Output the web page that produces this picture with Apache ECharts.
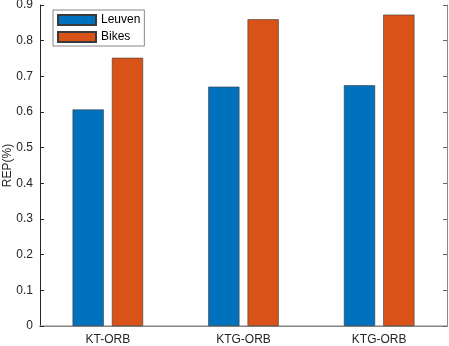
<!DOCTYPE html>
<html>
<head>
<meta charset="utf-8">
<script src="https://cdn.jsdelivr.net/npm/echarts@6/dist/echarts.min.js"></script>
<style>
  html, body { margin: 0; padding: 0; background: #fff; }
  #chart1 { width: 449px; height: 346px; }
</style>
</head>
<body>
<div id="chart1"></div>
<script>
const categorias = ['KT-ORB', 'KTG-ORB', 'KTG-ORB'];
const leuven = [0.607, 0.671, 0.675];
const bikes = [0.752, 0.860, 0.873];
const yTicks = [0, 0.1, 0.2, 0.3, 0.4, 0.5, 0.6, 0.7, 0.8, 0.9];

const fuente = 'Liberation Sans, Arial, sans-serif';
const gris = '#262626';

const chart1 = echarts.init(document.getElementById('chart1'));

const option = {
  animation: false,
  textStyle: { fontFamily: fuente },
  grid: { left: 40, right: 2, top: 5, bottom: 20, containLabel: false, outerBoundsMode: 'none' },
  legend: {
    orient: 'vertical',
    left: 53,
    top: 10,
    itemWidth: 38,
    itemHeight: 10,
    itemGap: 5,
    padding: [4, 4, 3, 4],
    borderColor: '#555',
    borderWidth: 0.7,
    icon: 'rect',
    textStyle: { fontSize: 12, color: '#000', fontFamily: fuente },
    data: ['Leuven', 'Bikes']
  },
  xAxis: [{
    type: 'category',
    data: categorias,
    axisLine: { lineStyle: { color: gris, width: 1 } },
    axisTick: { alignWithLabel: true, inside: true, length: 4, lineStyle: { color: gris } },
    axisLabel: { color: gris, fontSize: 12, margin: 8 }
  }, {
    type: 'category',
    data: categorias,
    position: 'top',
    axisLine: { lineStyle: { color: '#a8a8a8', width: 1.5 } },
    axisTick: { alignWithLabel: true, inside: true, length: 4, lineStyle: { color: '#888' } },
    axisLabel: { show: false }
  }],
  yAxis: [{
    type: 'value',
    min: 0,
    max: 0.9,
    interval: 0.1,
    name: 'REP(%)',
    nameLocation: 'middle',
    nameGap: 26,
    nameMoveOverlap: false,
    nameTextStyle: { color: gris, fontSize: 12 },
    axisLine: { show: true, lineStyle: { color: gris } },
    axisTick: { show: true, inside: true, length: 4, lineStyle: { color: gris } },
    axisLabel: {
      color: gris, fontSize: 12, margin: 7,
      formatter: v => yTicks.includes(Math.round(v * 10) / 10) ? String(Math.round(v * 10) / 10) : ''
    },
    splitLine: { show: false }
  }, {
    type: 'value',
    min: 0,
    max: 0.9,
    interval: 0.1,
    position: 'right',
    axisLine: { show: true, lineStyle: { color: '#888' } },
    axisTick: { show: true, inside: true, length: 4, lineStyle: { color: '#666' } },
    axisLabel: { show: false },
    splitLine: { show: false }
  }],
  series: [{
    name: 'Leuven',
    type: 'bar',
    data: leuven,
    barWidth: '23%',
    barGap: '26%',
    itemStyle: { color: '#0072BD', borderColor: '#3a3a3a', borderWidth: 0.6 }
  }, {
    name: 'Bikes',
    type: 'bar',
    data: bikes,
    barWidth: '23%',
    barGap: '26%',
    itemStyle: { color: '#D95319', borderColor: '#3a3a3a', borderWidth: 0.6 }
  }]
};

chart1.setOption(option);
</script>
</body>
</html>
